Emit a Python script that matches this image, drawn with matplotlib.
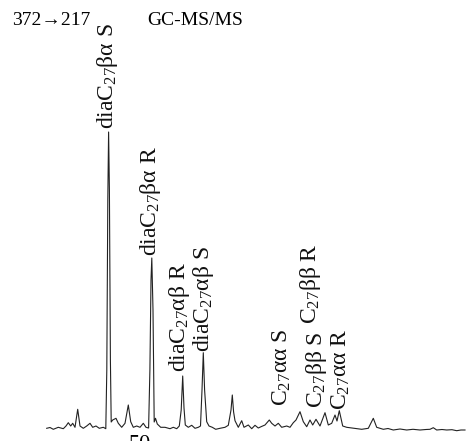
import matplotlib
matplotlib.use('Agg')
from matplotlib import pyplot as plt

plt.rcParams['font.family'] = ['Liberation Serif', 'DejaVu Serif']
plt.rcParams['mathtext.fontset'] = 'custom'
plt.rcParams['mathtext.rm'] = 'Liberation Serif'
plt.rcParams['mathtext.it'] = 'Liberation Serif:italic'

# m/z 372 -> 217 trace, vertices of the recorded chromatogram
rt = [46.7, 50, 53.3, 58.3, 63.3, 66, 68.3, 70.7, 72.7, 75, 77.7, 80, 83.3, 86.7, 90,
      92.7, 96, 99.3, 103.3, 105.8, 106.8, 107.8, 108.6, 109.4, 110.4, 111.2, 112.7, 116,
      118.3, 121.7, 125, 128.3, 130.7, 133.3, 136.7, 140, 143.3, 146, 148.6, 149.9,
      151.0, 151.8, 153.0, 154.2, 155.5, 157.3, 160.7, 165, 170, 173.3, 176.7, 179.3,
      181.2, 182.7, 184.0, 185.3, 188.3, 191.7, 195, 198.3, 200.5, 202.0, 203.3, 204.6,
      206.7, 209, 212.3, 215.7, 220, 225, 228.3, 231.0, 232.3, 233.6, 235, 238.3, 241.7,
      244, 248.3, 251.7, 255, 258.3, 261.5, 265, 269.3, 271.7, 275, 278.3, 281.7, 286.7,
      290, 293.3, 296, 300, 303.3, 306.7, 310, 312.7, 316, 320, 325, 328.3, 331.7, 335,
      337, 339.3, 342.7, 346.7, 351.7, 356.7, 361.7, 368.3, 373.3, 376.7, 383.3, 388,
      393.3, 400, 406.7, 413, 420, 426, 430, 433.3, 436.7, 442, 446.7, 452, 456.7, 461,
      465]
abundance = [1.7, 2.5, 0.7, 2.7, 1.3, 4, 7.3, 4, 6.7, 2.7, 20.7, 4, 1.7, 4, 6.7,
             2.7, 4, 1.7, 2.7, 1.3, 60, 230, 298, 240, 70, 8, 10, 11.7,
             6.7, 2.7, 6.7, 25, 8.3, 2.7, 4, 2.7, 6.7, 2.7, 2, 60,
             150, 172, 120, 8, 11.7, 6, 2.7, 2.7, 1.3, 2.7, 1.3, 4,
             20, 54, 22, 5, 2.7, 4.7, 1.7, 2.7, 4, 40, 77.3, 40,
             8.3, 4, 2.7, 0.7, 1.7, 2.7, 4.7, 20, 35, 18, 9.3, 2.7, 9.3,
             2.7, 5, 1.3, 4.7, 2, 3.5, 5, 10, 6.7, 4, 6.7, 2.7, 4,
             2.7, 7.3, 10, 18.3, 8.3, 3.3, 10, 5, 10.7, 4, 17.3, 5, 6.7, 15,
             9, 19.3, 4, 2.7, 2, 1.3, 0.7, 1.7, 11.7, 2.7, 0.7, 1.5,
             0, 1, 0, 0.7, 0, 0.5, 0.7, 2.3, 0, 0.5, 0, 0.3, -0.7, 0,
             0]

# peak assignments: label, baseline position, start height
peak_names = [r'diaC$_{27}$βα S', r'diaC$_{27}$βα R', r'diaC$_{27}$αβ R', r'diaC$_{27}$αβ S',
              r'C$_{27}$αα S', r'C$_{27}$ββ R', r'C$_{27}$ββ S', r'C$_{27}$αα R']
label_rt = [113, 156, 185, 209, 288, 316, 322, 347]
label_start = [301, 174, 58, 78, 24, 106, 22, 20]

fig = plt.figure(figsize=(4.67, 4.41), dpi=100)
ax = fig.add_axes([0, 0, 1, 1])
ax.set_xlim(0, 467)
ax.set_ylim(-11, 430)
ax.axis('off')

ax.plot(rt, abundance, color='#222222', lw=0.8)

for name, x, y in zip(peak_names, label_rt, label_start):
    ax.text(x, y, name, rotation=90, rotation_mode='anchor',
            ha='left', va='baseline', fontsize=17, color='#111111')

ax.text(12, 405, '372→217', fontsize=14, va='baseline')
ax.text(147, 405, 'GC-MS/MS', fontsize=14, va='baseline')
# time axis label, mostly below the visible frame
ax.text(140, -5, '50', fontsize=16, ha='center', va='top')

fig.savefig('out.png', dpi=100)
